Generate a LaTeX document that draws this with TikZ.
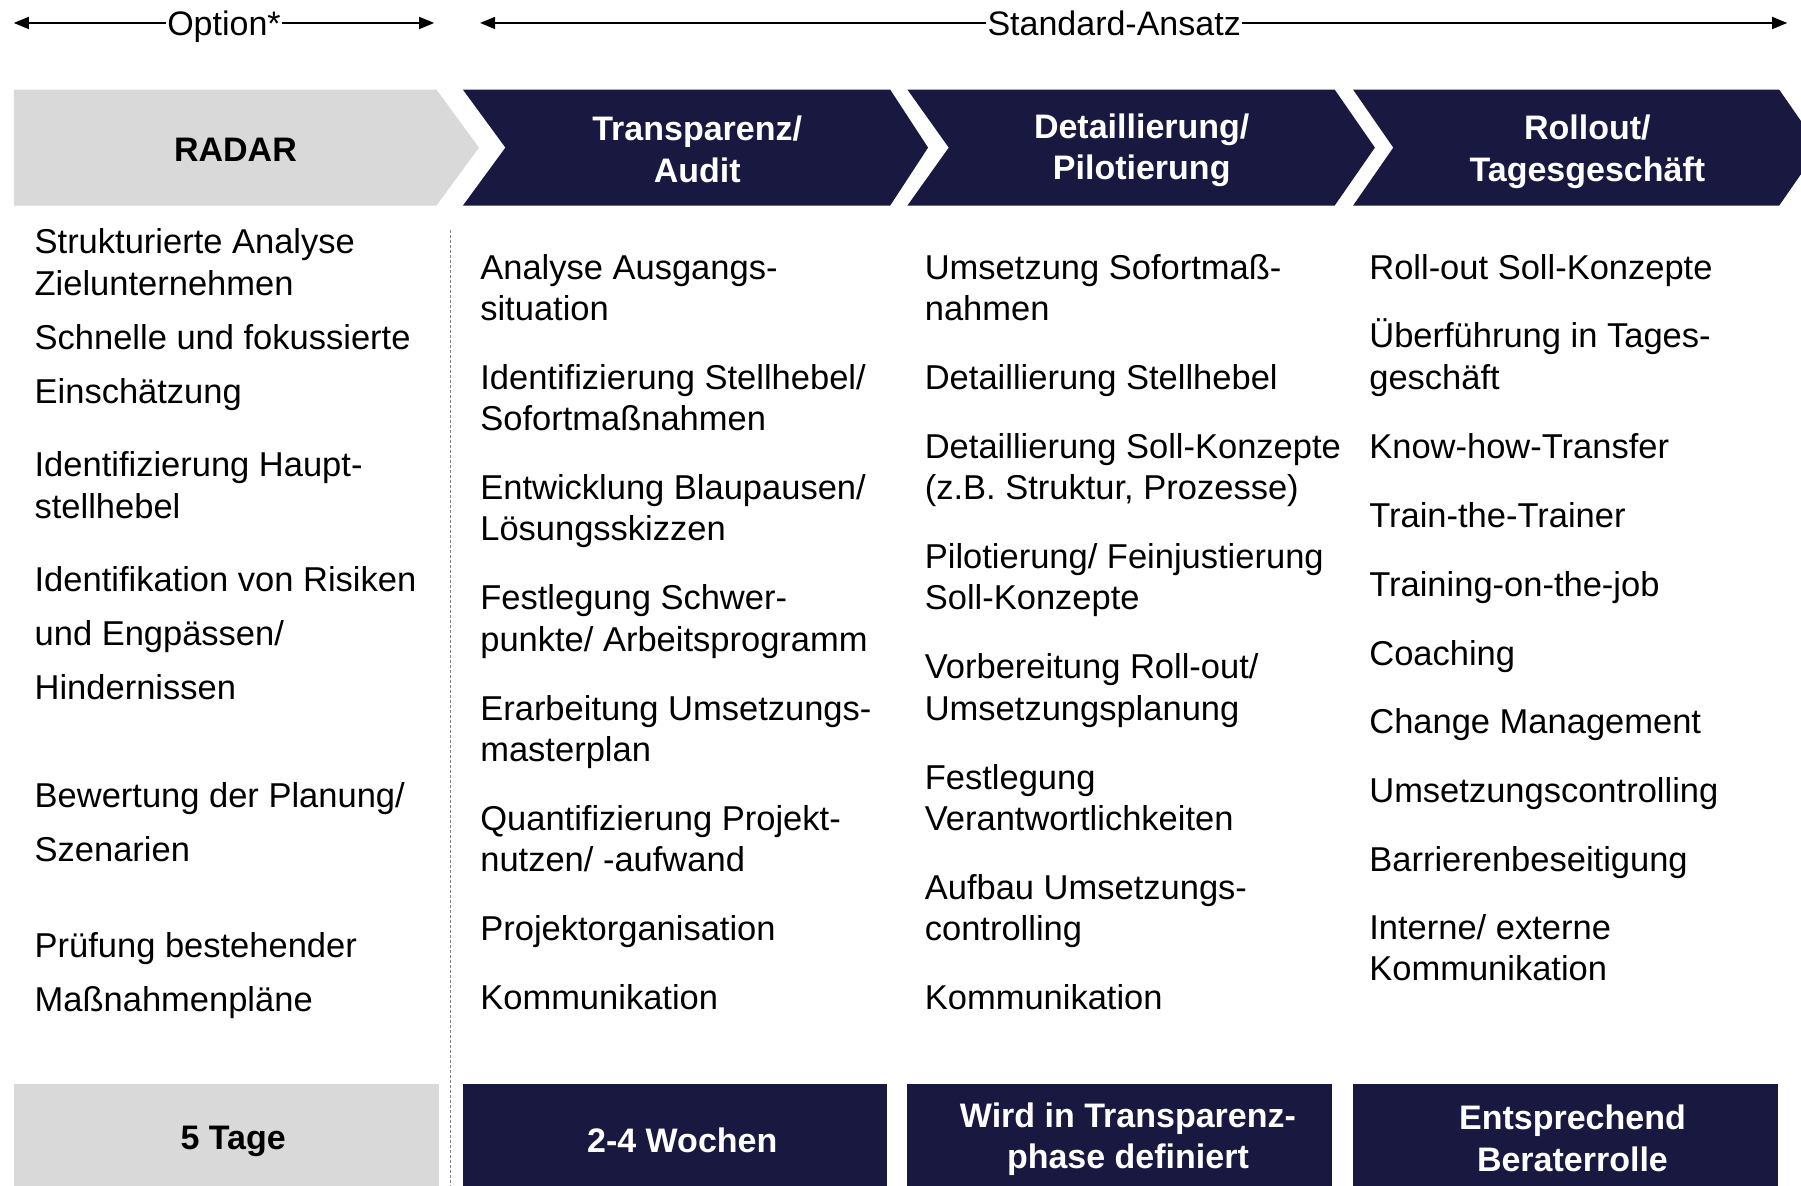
\documentclass[tikz,border=0pt]{standalone}
\usepackage{fontspec}
\setmainfont{Liberation Sans}
\usetikzlibrary{arrows.meta}
\definecolor{navy}{RGB}{25,24,64}
\definecolor{lgray}{RGB}{217,217,217}
\begin{document}
\begin{tikzpicture}[x=1.1486pt,y=-1.1486pt,
  txt/.style={anchor=base west, align=left, inner sep=0pt, font=\fontsize{34.5}{41.4}\selectfont},
  txtw/.style={anchor=base west, align=left, inner sep=0pt, font=\fontsize{34.5}{54}\selectfont},
  head/.style={align=center, text=white, inner sep=0pt, font=\fontsize{34}{41.4}\selectfont\bfseries},
  headk/.style={head, text=black},
  toplbl/.style={anchor=base, inner sep=1pt, font=\fontsize{34}{41.4}\selectfont},
  arr/.style={line width=1.5pt, -{Triangle[length=15pt,width=12pt]}},
  darkfill/.style={fill=navy, draw=none},
  grayfill/.style={fill=lgray, draw=none},
  sep/.style={draw=gray, line width=0.8pt, dash pattern=on 3pt off 2pt}
]
\useasboundingbox (0,0) rectangle (1568,1032);
\clip (0,0) rectangle (1568,1032);

% top arrows
\coordinate (oL) at (12,20);
\coordinate (oR) at (378,20);
\node[toplbl] (opt) at (195,31) {Option*};
\draw[arr] (opt.west |- oL) -- (oL);
\draw[arr] (opt.east |- oR) -- (oR);
\coordinate (sL) at (418,20);
\coordinate (sR) at (1556,20);
\node[toplbl] (std) at (970,31) {Standard-Ansatz};
\draw[arr] (std.west |- sL) -- (sL);
\draw[arr] (std.east |- sR) -- (sR);

% chevrons
\fill[grayfill] (12,78) -- (380,78) -- (417,128.5) -- (380,179) -- (12,179) -- cycle;
\fill[darkfill] (403,78) -- (775,78) -- (808,128.5) -- (775,179) -- (403,179) -- (440,128.5) -- cycle;
\fill[darkfill] (790,78) -- (1162,78) -- (1197,128.5) -- (1162,179) -- (790,179) -- (826,128.5) -- cycle;
\fill[darkfill] (1178,78) -- (1549,78) -- (1584,128.5) -- (1549,179) -- (1178,179) -- (1213,128.5) -- cycle;
\node[headk] (h1) at (205,130) {RADAR};
\node[head] (h2) at (607,130) {Transparenz/\\Audit};
\node[head] (h3) at (994,131) {Detaillierung/\\Pilotierung};
\node[head] (h4) at (1382,132) {Rollout/\\Tagesgeschäft};

% separator
\coordinate (dT) at (392,200);
\coordinate (dB) at (392,1032);
\draw[sep] (dT) -- (dB);

% column 1 (base anchor = last line)
\node[txt] (a1) at (30,257) {Strukturierte Analyse\\Zielunternehmen};
\node[txtw] (a2) at (30,351) {Schnelle und fokussierte\\Einschätzung};
\node[txt] (a3) at (30,451) {Identifizierung Haupt-\\stellhebel};
\node[txtw] (a4) at (30,609) {Identifikation von Risiken\\und Engpässen/\\Hindernissen};
\node[txtw] (a5) at (30,750) {Bewertung der Planung/\\Szenarien};
\node[txtw] (a6) at (30,881) {Prüfung bestehender\\Maßnahmenpläne};

% column 2
\node[txt] (b1) at (418,279) {Analyse Ausgangs-\\situation};
\node[txt] (b2) at (418,375) {Identifizierung Stellhebel/\\Sofortmaßnahmen};
\node[txt] (b3) at (418,471) {Entwicklung Blaupausen/\\Lösungsskizzen};
\node[txt] (b4) at (418,567) {Festlegung Schwer-\\punkte/ Arbeitsprogramm};
\node[txt] (b5) at (418,663) {Erarbeitung Umsetzungs-\\masterplan};
\node[txt] (b6) at (418,759) {Quantifizierung Projekt-\\nutzen/ -aufwand};
\node[txt] (b7) at (418,819) {Projektorganisation};
\node[txt] (b8) at (418,879) {Kommunikation};

% column 3
\node[txt] (c1) at (805,279) {Umsetzung Sofortmaß-\\nahmen};
\node[txt] (c2) at (805,339) {Detaillierung Stellhebel};
\node[txt] (c3) at (805,435) {Detaillierung Soll-Konzepte\\(z.B. Struktur, Prozesse)};
\node[txt] (c4) at (805,531) {Pilotierung/ Feinjustierung\\Soll-Konzepte};
\node[txt] (c5) at (805,627) {Vorbereitung Roll-out/\\Umsetzungsplanung};
\node[txt] (c6) at (805,723) {Festlegung\\Verantwortlichkeiten};
\node[txt] (c7) at (805,819) {Aufbau Umsetzungs-\\controlling};
\node[txt] (c8) at (805,879) {Kommunikation};

% column 4
\node[txt] (d1) at (1192,243) {Roll-out Soll-Konzepte};
\node[txt] (d2) at (1192,339) {Überführung in Tages-\\geschäft};
\node[txt] (d3) at (1192,399) {Know-how-Transfer};
\node[txt] (d4) at (1192,459) {Train-the-Trainer};
\node[txt] (d5) at (1192,519) {Training-on-the-job};
\node[txt] (d6) at (1192,579) {Coaching};
\node[txt] (d7) at (1192,639) {Change Management};
\node[txt] (d8) at (1192,699) {Umsetzungscontrolling};
\node[txt] (d9) at (1192,759) {Barrierenbeseitigung};
\node[txt] (d10) at (1192,854) {Interne/ externe\\Kommunikation};

% bottom boxes
\fill[grayfill] (12,944) rectangle (382,1045);
\fill[darkfill] (403,944) rectangle (772,1045);
\fill[darkfill] (790,944) rectangle (1160,1045);
\fill[darkfill] (1178,944) rectangle (1548,1045);
\node[headk] (e1) at (203,994) {5 Tage};
\node[head] (e2) at (594,993) {2-4 Wochen};
\node[head] (e3) at (982,992) {Wird in Transparenz-\\phase definiert};
\node[head] (e4) at (1369,991) {Entsprechend\\Beraterrolle};
\end{tikzpicture}
\end{document}
